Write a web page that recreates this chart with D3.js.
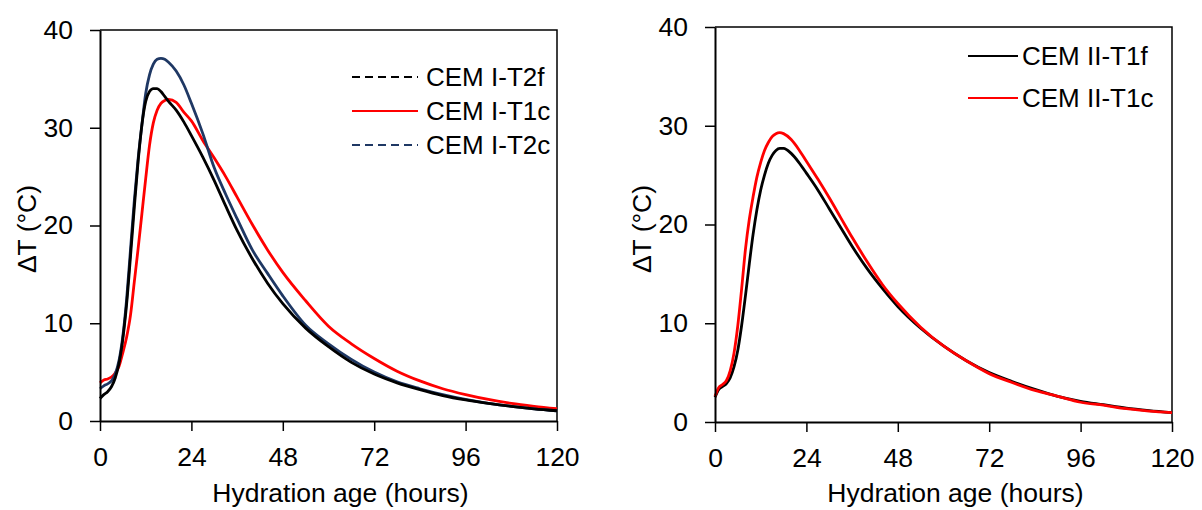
<!DOCTYPE html>
<html>
<head>
<meta charset="utf-8">
<script src="https://cdn.jsdelivr.net/npm/d3@7"></script>
<style>
    body { margin: 0; background: #fff; }
    svg text { font-family: "Liberation Sans", Arial, sans-serif; fill: #000; }
</style>
</head>
<body>
<div id="chart"></div>
<script>
// hydration age (hours), shared by every series
var hours = [0, 1, 2, 3, 4, 5, 6, 7, 8, 9, 10, 11, 12, 13, 14, 15, 16, 17, 18, 20, 22, 24, 27, 30, 33, 36, 40, 44, 48, 54, 60, 66, 72, 78, 84, 90, 96, 102, 108, 114, 120];

// left panel
var cem1_t2f = [2.3, 2.7, 3.0, 3.5, 4.4, 5.9, 8.4, 12.0, 16.8, 21.8, 26.5, 30.3, 32.7, 33.7, 34.0, 34.0, 33.7, 33.2, 32.7, 31.8, 30.6, 29.2, 27.0, 24.6, 22.0, 19.5, 16.6, 14.1, 12.0, 9.5, 7.6, 6.0, 4.8, 3.9, 3.2, 2.6, 2.15, 1.8, 1.5, 1.25, 1.05];
var cem1_t1c = [3.9, 4.2, 4.3, 4.5, 4.9, 5.6, 7.0, 8.6, 10.8, 14.2, 17.6, 21.2, 24.8, 28.2, 30.5, 31.8, 32.5, 32.8, 32.9, 32.6, 31.6, 30.7, 28.7, 26.9, 25.0, 22.9, 20.1, 17.5, 15.2, 12.3, 9.7, 7.9, 6.4, 5.1, 4.1, 3.3, 2.7, 2.2, 1.8, 1.5, 1.25];
var cem1_t2c = [3.3, 3.6, 3.8, 4.1, 4.8, 6.2, 8.7, 12.5, 17.5, 22.5, 26.8, 30.3, 33.5, 35.4, 36.5, 37.0, 37.1, 37.0, 36.7, 35.8, 34.4, 32.5, 29.4, 25.9, 23.2, 20.7, 17.5, 15.1, 12.8, 9.8, 7.9, 6.3, 5.0, 4.0, 3.3, 2.7, 2.2, 1.8, 1.5, 1.25, 1.05];

// right panel
var cem2_t1f = [2.5, 3.3, 3.6, 3.9, 4.5, 5.6, 7.3, 9.8, 12.8, 16.0, 19.0, 21.5, 23.5, 25.0, 26.2, 27.0, 27.5, 27.7, 27.7, 27.2, 26.3, 25.2, 23.5, 21.6, 19.7, 17.8, 15.5, 13.5, 11.7, 9.5, 7.7, 6.2, 5.0, 4.1, 3.3, 2.6, 2.1, 1.75, 1.4, 1.15, 0.95];
var cem2_t1c = [2.6, 3.5, 3.8, 4.2, 5.2, 7.0, 9.8, 13.5, 17.5, 20.5, 22.8, 24.8, 26.3, 27.5, 28.3, 28.9, 29.2, 29.3, 29.2, 28.6, 27.6, 26.4, 24.6, 22.7, 20.7, 18.7, 16.2, 13.9, 12.0, 9.6, 7.7, 6.2, 4.9, 4.0, 3.2, 2.6, 2.0, 1.7, 1.35, 1.1, 0.95];

var xTicks = [0, 24, 48, 72, 96, 120];
var yTicks = [0, 10, 20, 30, 40];

var width = 1202;
var height = 510;

var svg = d3.select('#chart')
    .append('svg')
    .attr('width', width)
    .attr('height', height);

function draw_panel(box, series, legend) {
    var x = d3.scaleLinear().domain([0, 120]).range([box.left, box.right]);
    var y = d3.scaleLinear().domain([0, 40]).range([box.bottom, box.top]);

    var g = svg.append('g');

    // frame (top + right, no ticks)
    g.append('path')
        .attr('d', 'M' + box.left + ',' + box.top + 'H' + box.right + 'V' + box.bottom)
        .attr('fill', 'none')
        .attr('stroke', '#000')
        .attr('stroke-width', 1.5);

    var line = d3.line()
        .x(function(d, i) { return x(hours[i]); })
        .y(function(d) { return y(d); })
        .curve(d3.curveMonotoneX);

    series.forEach(function(s) {
        g.append('path')
            .datum(s.values)
            .attr('d', line)
            .attr('fill', 'none')
            .attr('stroke', s.color)
            .attr('stroke-width', 2.8)
            .attr('stroke-linejoin', 'round');
    });

    var xAxis = g.append('g')
        .attr('transform', 'translate(0,' + box.bottom + ')')
        .call(d3.axisBottom(x).tickValues(xTicks).tickSize(10).tickPadding(16).tickSizeOuter(0));
    var yAxis = g.append('g')
        .attr('transform', 'translate(' + box.left + ',0)')
        .call(d3.axisLeft(y).tickValues(yTicks).tickSize(10).tickPadding(17).tickSizeOuter(0));

    [xAxis, yAxis].forEach(function(a) {
        a.select('.domain').attr('stroke-width', 2);
        a.selectAll('.tick line').attr('stroke-width', 1.5);
        a.selectAll('.tick text')
            .style('font-size', '26.5px')
            .style('font-family', '"Liberation Sans", Arial, sans-serif');
    });

    g.append('text')
        .attr('x', (box.left + box.right) / 2 + 12)
        .attr('y', 502)
        .attr('text-anchor', 'middle')
        .style('font-size', '26.5px')
        .text('Hydration age (hours)');

    g.append('text')
        .attr('transform', 'translate(' + (box.left - 64) + ',229) rotate(-90)')
        .attr('text-anchor', 'middle')
        .style('font-size', '26.5px')
        .text('ΔT (°C)');

    // legend
    legend.rows.forEach(function(r, i) {
        var s = series[r];
        var ly = legend.y[i];
        g.append('line')
            .attr('x1', legend.x1).attr('x2', legend.x2)
            .attr('y1', ly).attr('y2', ly)
            .attr('stroke', s.color)
            .attr('stroke-width', 2)
            .attr('stroke-dasharray', s.dash ? '8,5' : null);
        g.append('text')
            .attr('x', legend.tx)
            .attr('y', ly)
            .attr('dy', '0.36em')
            .style('font-size', '26px')
            .text(s.name);
    });
}

draw_panel(
    { left: 100, right: 557, top: 30, bottom: 421 },
    [
        { name: 'CEM I-T1c', values: cem1_t1c, color: '#ff0000', dash: false },
        { name: 'CEM I-T2c', values: cem1_t2c, color: '#1f3864', dash: true },
        { name: 'CEM I-T2f', values: cem1_t2f, color: '#000000', dash: true }
    ],
    { rows: [2, 0, 1], y: [77, 111, 145], x1: 352, x2: 418, tx: 426 }
);

draw_panel(
    { left: 715, right: 1172, top: 27, bottom: 422 },
    [
        { name: 'CEM II-T1f', values: cem2_t1f, color: '#000000', dash: false },
        { name: 'CEM II-T1c', values: cem2_t1c, color: '#ff0000', dash: false }
    ],
    { rows: [0, 1], y: [56, 98], x1: 968, x2: 1018, tx: 1022 }
);
</script>
</body>
</html>
